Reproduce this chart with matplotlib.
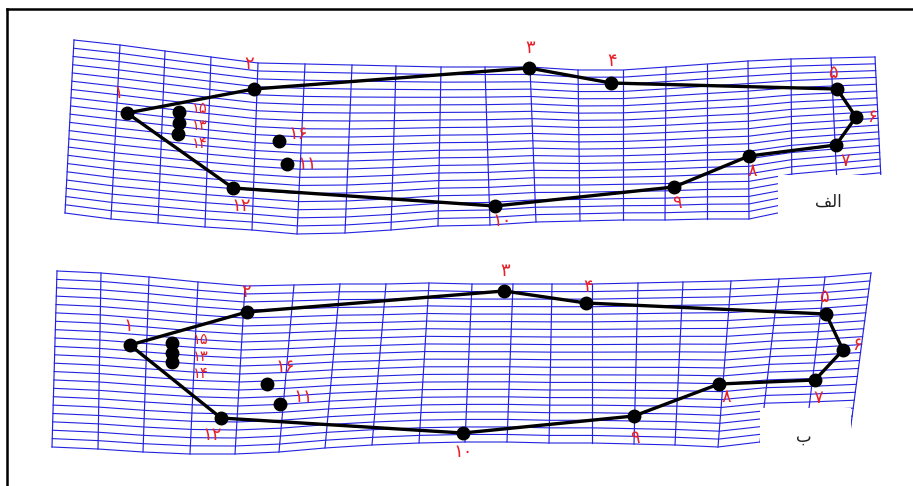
import matplotlib.pyplot as plt
from matplotlib.patches import Rectangle

# Deformed mesh, panel "alef" (top): column ends (pixel coords of the picture)
top_x_a = [74, 120, 165, 211, 258, 305, 352, 396, 441, 485, 530, 578, 623, 666, 707, 748, 791, 831, 875]
top_y_a = [40, 45, 51, 57, 63, 64, 65, 66, 67, 67, 67, 70, 70, 67, 64, 61, 59, 58, 57]
bot_x_a = [65, 111, 158, 205, 252, 297, 345, 391, 438, 490, 536, 580, 623, 665, 707, 749, 792, 838, 882]
bot_y_a = [213, 219, 223, 227, 230, 234, 233, 230, 226, 225, 222, 221, 220, 220, 219, 219, 210, 205, 200]

# Deformed mesh, panel "be" (bottom)
top_x_b = [57, 101, 149, 198, 245, 294, 340, 386, 429, 472, 513, 552, 592, 638, 683, 731, 779, 825, 871]
top_y_b = [271, 273, 277, 282, 286, 285, 284, 284, 283, 284, 284, 284, 284, 283, 282, 281, 279, 277, 273]
bot_x_b = [52, 98, 143, 190, 235, 279, 325, 372, 419, 465, 507, 549, 592, 634, 675, 718, 760, 805, 849]
bot_y_b = [447, 449, 452, 454, 454, 452, 448, 445, 443, 442, 442, 443, 443, 444, 445, 447, 442, 441, 440]

n_rows = 21

# Measured points 1..16
pt_x_a = [127, 254, 529, 611, 837, 856, 836, 749, 674, 495, 287, 233, 179, 178, 179, 279]
pt_y_a = [113, 89, 68, 83, 89, 117, 145, 156, 187, 206, 164, 188, 123, 134, 112, 141]
lab_x_a = [118, 249, 530, 612, 833, 872, 845, 752, 677, 502, 307, 241, 200, 200, 200, 298]
lab_y_a = [93, 64, 48, 61, 73, 117, 161, 171, 203, 221, 164, 206, 125, 143, 108, 134]

pt_x_b = [130, 247, 504, 586, 826, 843, 815, 719, 634, 463, 280, 221, 172, 172, 172, 267]
pt_y_b = [345, 312, 291, 303, 314, 350, 380, 384, 416, 433, 404, 418, 353, 362, 343, 384]
lab_x_b = [128, 246, 505, 588, 824, 857, 818, 726, 635, 463, 303, 212, 201, 201, 201, 285]
lab_y_b = [326, 292, 271, 287, 297, 345, 398, 397, 438, 452, 397, 435, 356, 373, 339, 367]

labels = ['۱', '۲', '۳', '۴', '۵', '۶', '۷', '۸', '۹', '۱۰', '۱۱', '۱۲', '۱۳', '۱۴', '۱۵', '۱۶']
outline = [1, 2, 3, 4, 5, 6, 7, 8, 9, 10, 12, 1]
stacked = ['۱۳', '۱۴', '۱۵']

fig = plt.figure(figsize=(9.13, 4.86), dpi=100)
ax = fig.add_axes([0, 0, 1, 1])
ax.set_xlim(0, 913)
ax.set_ylim(486, 0)
ax.axis('off')

grid_color = '#2222e0'


def draw_panel(tx, ty, bx, by, px, py, lx, ly, box, tag, tag_xy):
    # vertical mesh lines
    for i in range(len(tx)):
        ax.plot([tx[i], bx[i]], [ty[i], by[i]], color=grid_color, lw=0.85, zorder=1)
    # horizontal mesh lines
    for r in range(n_rows + 1):
        t = r / n_rows
        xs = [a + t * (b - a) for a, b in zip(tx, bx)]
        ys = [a + t * (b - a) for a, b in zip(ty, by)]
        ax.plot(xs, ys, color=grid_color, lw=0.8, zorder=1)
    # blank area for the panel tag
    ax.add_patch(Rectangle((box[0], box[1]), box[2] - box[0], box[3] - box[1],
                           facecolor='white', edgecolor='none', zorder=2))
    # outline of the measured points
    ox = [px[k - 1] for k in outline]
    oy = [py[k - 1] for k in outline]
    ax.plot(ox, oy, color='black', lw=2.4, zorder=3)
    ax.plot(px, py, 'o', color='black', ms=9, zorder=4)
    for i, s in enumerate(labels):
        size = 10.5 if s in stacked else 13
        ax.text(lx[i], ly[i], s, color='#e8202a', fontsize=size,
                ha='center', va='center', zorder=5)
    ax.text(tag_xy[0], tag_xy[1], tag, color='#222222', fontsize=12,
            ha='center', va='center', zorder=5)


draw_panel(top_x_a, top_y_a, bot_x_a, bot_y_a, pt_x_a, pt_y_a, lab_x_a, lab_y_a,
           (778, 175, 885, 240), '\uFED2\uFEDF\uFE8D', (828, 202))
draw_panel(top_x_b, top_y_b, bot_x_b, bot_y_b, pt_x_b, pt_y_b, lab_x_b, lab_y_b,
           (760, 408, 851, 470), '\uFE8F', (804, 437))

# frame
ax.plot([7, 913], [9, 9], color='black', lw=1.8, zorder=6)
ax.plot([7, 7], [9, 486], color='black', lw=1.8, zorder=6)

fig.savefig('out.png', dpi=100)
